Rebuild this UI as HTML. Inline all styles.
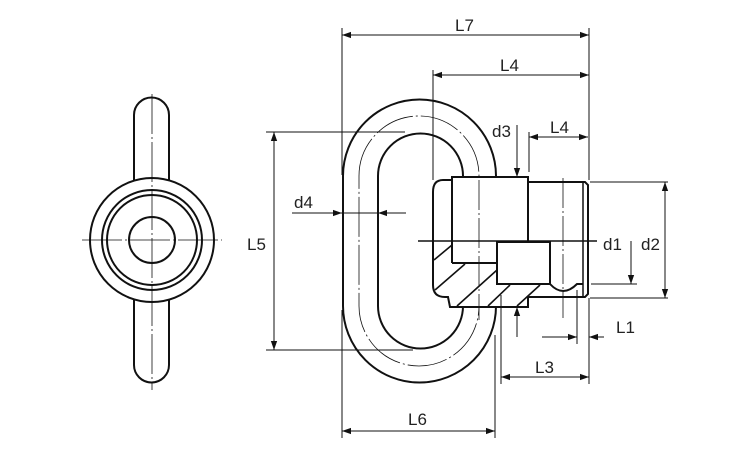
<!DOCTYPE html>
<html><head><meta charset="utf-8"><style>
html,body{margin:0;padding:0;background:#fff;width:750px;height:450px;overflow:hidden}
text{font-family:"Liberation Sans",sans-serif;font-size:17px;fill:#222}
</style></head><body>
<svg width="750" height="450" viewBox="0 0 750 450" xmlns="http://www.w3.org/2000/svg">
<defs>
<marker id="a" viewBox="0 0 10 10" refX="10" refY="5" markerWidth="9" markerHeight="9" orient="auto-start-reverse" markerUnits="userSpaceOnUse"><path d="M0,1.5 L10,5 L0,8.5 Z" fill="#111"/></marker>
</defs>
<g fill="none" stroke="#111">
<!-- left view -->
<path d="M134,115 A17.5,17.5 0 0 1 169,115 V365 A17.5,17.5 0 0 1 134,365 Z" stroke-width="2" fill="#fff"/>
<circle cx="152" cy="240" r="62" stroke-width="2" fill="#fff"/>
<circle cx="152" cy="240" r="50" stroke-width="2"/>
<circle cx="152" cy="240" r="45" stroke-width="2"/>
<circle cx="152" cy="240" r="23" stroke-width="2"/>
<line x1="152" y1="94" x2="152" y2="390" stroke-width="0.8" stroke-dasharray="40,3,2,3"/>
<line x1="82" y1="240" x2="222" y2="240" stroke-width="0.8" stroke-dasharray="40,3,2,3"/>

<!-- ring -->
<path d="M343,176 A76.5,76.5 0 0 1 496,176 V306 A76.5,76.5 0 0 1 343,306 Z" stroke-width="2"/>
<path d="M378,176 A42.5,42.5 0 0 1 463,176 V306 A42.5,42.5 0 0 1 378,306 Z" stroke-width="2"/>
<path d="M359,176 A60,60 0 0 1 479,176 V306 A60,60 0 0 1 359,306 Z" stroke-width="0.8" stroke-dasharray="40,3,2,3"/>

<!-- nut -->
<path d="M443,180 H452 V177 H528 V182 H585 L588,185 V294 L585,297 H528 V307 H450 L448,297 H445 Q433,297 433,285 V192 Q433,180 443,180 Z" stroke-width="2" fill="#fff"/>
<line x1="452" y1="177" x2="452" y2="263" stroke-width="2"/>
<line x1="528" y1="177" x2="528" y2="241" stroke-width="2"/>
<line x1="452" y1="263" x2="497" y2="263" stroke-width="2"/>
<rect x="497" y="242" width="53" height="42" stroke-width="2"/>
<path d="M550,284 Q563,298 577,284 H583" stroke-width="2"/>
<line x1="583" y1="182" x2="583" y2="297" stroke-width="1.5"/>
<line x1="550" y1="241" x2="550" y2="284" stroke-width="2"/>
<!-- hatching -->
<g stroke-width="1.6">
<line x1="434" y1="260" x2="452" y2="245"/>
<line x1="435" y1="290" x2="465" y2="264"/>
<line x1="457" y1="306" x2="497" y2="270"/>
<line x1="488" y1="306" x2="510" y2="285"/>
<line x1="517" y1="306" x2="540" y2="285"/>
</g>
<line x1="418" y1="241" x2="597" y2="241" stroke-width="1.6"/>
<line x1="479" y1="180" x2="479" y2="320" stroke-width="0.8" stroke-dasharray="30,3,2,3"/>
<line x1="563" y1="178" x2="563" y2="318" stroke-width="0.8" stroke-dasharray="30,3,2,3"/>

<!-- dimension lines -->
<g stroke-width="1">
<line x1="342" y1="28" x2="342" y2="175"/>
<line x1="589" y1="28" x2="589" y2="180"/>
<line x1="589" y1="298" x2="589" y2="384"/>
<line x1="342" y1="35" x2="589" y2="35" marker-start="url(#a)" marker-end="url(#a)"/>
<line x1="433" y1="70" x2="433" y2="180"/>
<line x1="433" y1="75" x2="589" y2="75" marker-start="url(#a)" marker-end="url(#a)"/>
<line x1="529" y1="132" x2="529" y2="172"/>
<line x1="529" y1="137" x2="588" y2="137" marker-start="url(#a)" marker-end="url(#a)"/>
<line x1="517" y1="125" x2="517" y2="177" marker-end="url(#a)"/>
<line x1="517" y1="337" x2="517" y2="307" marker-end="url(#a)"/>
<line x1="292" y1="213" x2="342" y2="213" marker-end="url(#a)"/>
<line x1="406" y1="213" x2="378" y2="213" marker-end="url(#a)"/>
<line x1="342" y1="213" x2="378" y2="213"/>
<line x1="266" y1="132" x2="405" y2="132"/>
<line x1="266" y1="350" x2="413" y2="350"/>
<line x1="274" y1="132" x2="274" y2="350" marker-start="url(#a)" marker-end="url(#a)"/>
<line x1="591" y1="284" x2="637" y2="284"/>
<line x1="631" y1="241" x2="631" y2="284" marker-end="url(#a)"/>
<line x1="590" y1="182" x2="668" y2="182"/>
<line x1="590" y1="298" x2="668" y2="298"/>
<line x1="665" y1="182" x2="665" y2="298" marker-start="url(#a)" marker-end="url(#a)"/>
<line x1="577" y1="290" x2="577" y2="344"/>
<line x1="542" y1="337" x2="577" y2="337" marker-end="url(#a)"/>
<line x1="604" y1="337" x2="589" y2="337" marker-end="url(#a)"/>
<line x1="501" y1="295" x2="501" y2="384"/>
<line x1="501" y1="377" x2="589" y2="377" marker-start="url(#a)" marker-end="url(#a)"/>
<line x1="495" y1="335" x2="495" y2="438"/>
<line x1="342" y1="310" x2="342" y2="438"/>
<line x1="342" y1="431" x2="495" y2="431" marker-start="url(#a)" marker-end="url(#a)"/>
</g>
</g>
<g>
<text x="455" y="31">L7</text>
<text x="500" y="71">L4</text>
<text x="550" y="133">L4</text>
<text x="492" y="137">d3</text>
<text x="294" y="208">d4</text>
<text x="247" y="250">L5</text>
<text x="603" y="250">d1</text>
<text x="641" y="250">d2</text>
<text x="616" y="333">L1</text>
<text x="535" y="373">L3</text>
<text x="408" y="425">L6</text>
</g>
</svg>
</body></html>
